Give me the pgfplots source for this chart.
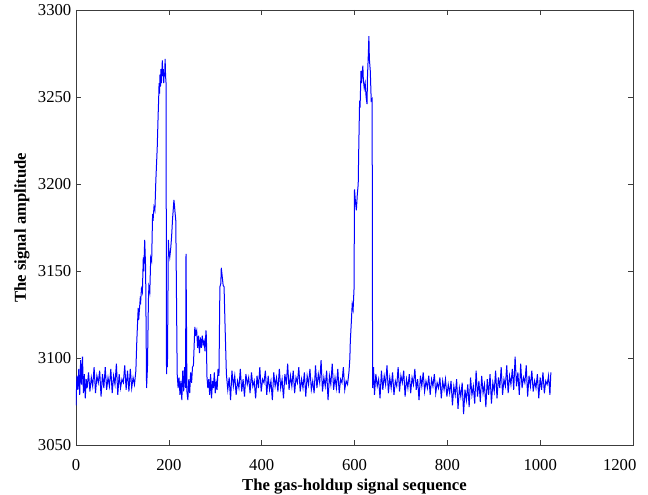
\documentclass[border=0pt]{standalone}
\usepackage{pgfplots}
\pgfplotsset{compat=1.18}
\usepackage{fontspec}
\setmainfont{Liberation Serif}
\definecolor{framec}{RGB}{60,60,60}
\begin{document}
\begin{tikzpicture}
\useasboundingbox (-57pt,-37.1pt) rectangle (429pt,334.1pt);
\begin{axis}[
  at={(0pt,0pt)}, anchor=south west,
  scale only axis,
  width=417.75pt, height=326.6pt,
  xmin=0, xmax=1200, ymin=3050, ymax=3300,
  xtick={0,200,400,600,800,1000,1200},
  xticklabels={0,200,400,600,800,1000,{\kern-20pt 1200}},
  ytick={3050,3100,3150,3200,3250,3300},
  yticklabels={3050,3100,3150,3200,3250,3300},
  tick align=inside,
  major tick length=4pt,
  axis line style={framec, line width=0.6pt},
  tick style={framec, line width=0.5pt},
  every tick label/.style={font=\rmfamily\fontsize{12.5}{14}\selectfont},
  xlabel={\textbf{The gas-holdup signal sequence}},
  ylabel={\textbf{The signal amplitude}},
  label style={font=\rmfamily\fontsize{12.5}{14}\selectfont},
  xlabel style={yshift=1pt},
  ylabel style={yshift=-0.5pt},
  xticklabel style={yshift=-7pt},
]
\addplot[blue, line width=0.75pt] coordinates {
(0,3073) (2,3090) (4,3082) (6,3094) (8,3079) (10,3099) (12,3085) (14,3101) (16,3080) (18,3091)
(20,3077) (22,3088) (24,3083) (27,3092) (30,3081) (33,3089) (36,3084) (39,3095) (42,3080) (45,3090)
(48,3086) (51,3093) (54,3078) (57,3091) (60,3083) (63,3095) (66,3082) (69,3089) (72,3084) (75,3094)
(78,3080) (81,3090) (84,3085) (87,3097) (90,3079) (93,3091) (96,3083) (99,3088) (102,3086) (105,3096)
(108,3082) (111,3093) (114,3081) (117,3094) (120,3083) (123,3089) (126,3085) (129,3093)
(131,3110) (134,3129) (135,3122) (138,3133) (139,3131) (141,3140) (143,3138) (145,3158) (146,3150)
(148,3168) (150,3152) (152,3083) (154,3095) (156,3133) (157,3141) (159,3138) (161,3158) (163,3156)
(165,3183) (166,3179) (168,3187) (170,3185) (172,3202) (175,3221) (177,3240) (178,3248) (179,3258)
(180,3252) (181,3263) (182,3256) (183,3266) (184,3258) (186,3271) (187,3262) (188,3266) (189,3258)
(190,3264) (191,3262) (192,3272) (193,3262) (194,3258)
(195,3091) (196,3104) (197,3095) (199,3168) (200,3162) (202,3158) (204,3163) (206,3170) (208,3180)
(211,3191) (213,3185) (215,3179) (218,3091) (220,3083) (222,3089) (224,3079) (226,3087) (228,3076)
(230,3093) (232,3081) (234,3095) (236,3083) (237,3160) (239,3081) (241,3076) (243,3088) (245,3080)
(247,3092) (249,3086) (251,3095) (253,3096) (256,3118) (258,3114) (260,3116) (262,3106) (264,3113)
(266,3103) (268,3112) (270,3106) (272,3113) (274,3108) (276,3110) (278,3104) (280,3116) (281,3112)
(282,3090) (284,3083) (286,3088) (288,3079) (290,3091) (292,3077) (294,3087) (296,3083) (298,3092)
(300,3080) (302,3086) (304,3082) (306,3094) (308,3090)
(310,3141) (312,3143) (313,3152) (315,3147) (317,3142) (319,3141) (321,3120) (324,3091)
(327,3082) (330,3089) (333,3076) (336,3093) (339,3084) (342,3090) (345,3079) (348,3087) (351,3083)
(354,3094) (357,3081) (360,3088) (363,3078) (366,3091) (369,3085) (372,3089) (375,3080) (378,3092)
(381,3084) (384,3087) (387,3077) (390,3090) (393,3083) (396,3095) (399,3081) (402,3088) (405,3086)
(408,3093) (411,3079) (414,3090) (417,3082) (420,3087) (423,3076) (426,3092) (429,3084) (432,3089)
(435,3081) (438,3094) (441,3083) (444,3088) (447,3077) (450,3091) (453,3085) (456,3097) (459,3082)
(462,3090) (465,3084) (468,3093) (471,3080) (474,3089) (477,3086) (480,3095) (483,3081) (486,3088)
(489,3083) (492,3092) (495,3078) (498,3090) (501,3085) (504,3094) (507,3082) (510,3087) (513,3080)
(516,3096) (519,3083) (522,3091) (525,3086) (528,3099) (531,3081) (534,3089) (537,3084) (540,3093)
(543,3076) (546,3090) (549,3085) (552,3097) (555,3082) (558,3089) (561,3083) (564,3094) (567,3080)
(570,3088) (573,3086) (576,3095) (579,3082) (582,3087) (585,3085) (588,3092)
(590,3100) (591,3110) (593,3120) (595,3131) (597,3128) (599,3140) (600,3197) (602,3190) (604,3185)
(606,3194) (608,3200) (609,3218) (611,3248) (612,3244) (614,3265) (615,3258) (616,3262) (618,3268)
(619,3260) (621,3255) (623,3258) (625,3250) (627,3246) (628,3262) (630,3276) (631,3285) (632,3272)
(634,3265) (636,3248) (638,3249) (639,3083)
(641,3095) (643,3079) (646,3091) (649,3084) (652,3088) (655,3077) (658,3093) (661,3082) (664,3090)
(667,3085) (670,3096) (673,3080) (676,3089) (679,3083) (682,3092) (685,3079) (688,3087) (691,3084)
(694,3095) (697,3081) (700,3090) (703,3086) (706,3093) (709,3078) (712,3088) (715,3083) (718,3091)
(721,3080) (724,3089) (727,3085) (730,3094) (733,3082) (736,3088) (739,3076) (742,3090) (745,3084)
(748,3092) (751,3081) (754,3087) (757,3083) (760,3090) (763,3079) (766,3088) (769,3084) (772,3091)
(775,3080) (778,3086) (781,3083) (784,3089) (787,3077) (790,3087) (793,3082) (796,3088) (799,3078)
(802,3085) (805,3080) (808,3087) (811,3073) (814,3084) (817,3079) (820,3088) (823,3071) (826,3083)
(829,3078) (832,3086) (835,3068) (838,3082) (841,3076) (844,3085) (847,3072) (850,3089) (853,3079)
(856,3084) (859,3074) (862,3093) (865,3078) (868,3087) (871,3075) (874,3090) (877,3080) (880,3085)
(883,3072) (886,3088) (889,3079) (892,3091) (895,3074) (898,3086) (901,3081) (904,3093) (907,3077)
(910,3089) (913,3083) (916,3095) (919,3079) (922,3088) (925,3084) (928,3096) (931,3080) (934,3090)
(937,3085) (940,3094) (943,3082) (946,3101) (949,3084) (952,3092) (955,3079) (958,3097) (961,3083)
(964,3089) (967,3086) (970,3096) (973,3078) (976,3090) (979,3084) (982,3093) (985,3081) (988,3087)
(991,3083) (994,3091) (997,3077) (1000,3089) (1003,3082) (1006,3092) (1009,3080) (1012,3087)
(1015,3085) (1018,3090) (1021,3079) (1023,3092)
};
\end{axis}
\end{tikzpicture}
\end{document}
